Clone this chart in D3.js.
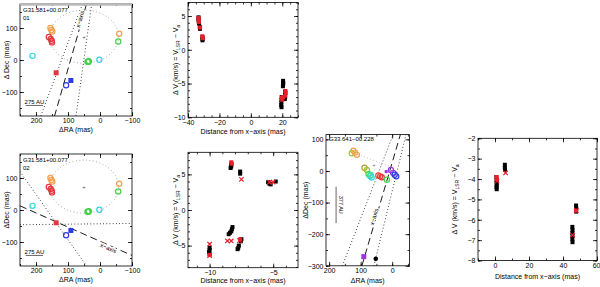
<!DOCTYPE html>
<html><head><meta charset="utf-8">
<script src="https://cdn.jsdelivr.net/npm/d3@7"></script>
<style>
body{margin:0;background:#fff}
svg{display:block;font-family:"Liberation Sans",Arial,sans-serif}
</style></head><body>
<svg width="600" height="287"></svg>
<script>
// colour groups of maser spots (by velocity)
var spotColors = ["#f4a04c","#e8343c","#34d4e4","#44d04c","#2c3ce4","#9c34e0","#b4a034","#94c834","#34e0b4","#f05024","#000000"];

// ---- G31.581+00.077 spots: [dRA, dDec, group] (mas)
var g31Spots = [
  [155,100,0],[152,94,0],[149,89,0],
  [160,72,1],[154,66,1],[151,60,1],[150,55,1],
  [211,13,2],[2,1,2],
  [39,-5,3],[35,-4,3],[37,-6,3],
  [-60,82,0],[-57,58,3],
  [106,-79,4]
];
var g31Squares = [[137,-40,1],[91,-64,4]];
var g31Ring = [50,73,108,83];       // centre RA, Dec, semi axes
// panel 01 lines
var axisA = [[42,175],[142,-175]];
var wedgeA1 = [[55,175],[185,-175]];
var wedgeA2 = [[26,175],[75,-175]];
// panel 02 lines
var axisC = [[250,13],[-100,-142]];
var cutC1 = [[250,-46],[-100,-42]];
var cutC2 = [[250,120],[42,-175]];

// ---- G33.641-00.228 spots
var g33Spots = [
  [123,64,0],[128,56,7],[118,58,0],[112,51,0],
  [88,10,6],[80,3,7],[75,-10,3],[70,-16,8],[65,-21,2],[68,-13,8],
  [44,-14,9],[38,-17,1],[33,-20,1],
  [17,-28,3],
  [4,3,5],[-3,-6,5],[-8,-12,4],[-13,-17,4]
];
var g33Small = [[19,-2,5]];
var g33Square = [[90,-271,5]];
var g33Dot = [[52,-278,10]];
var axisE = [[96,-300],[-26,115]];
var wedgeE1 = [[158,-300],[-3,115]];
var wedgeE2 = [[58,-300],[-44,115]];
var linkE = [[118,56],[7,14]];

// ---- velocity vs distance from x-axis: [distance (mas), dV (km/s)]
var velB_black = [[-33.3,4.8],[-33.3,4.5],[-33.2,4.2],[-33,3.9],[-32.5,3.4],[-32.4,3.1],
  [-30.8,1.9],[-30.7,1.6],[-30.8,1.4],[20.5,-4.6],[20.6,-4.9],[20.5,-5.2],[20.4,-5.4],
  [19.6,-7.0],[19.5,-7.4],[19.4,-7.8],[19.3,-8.2],[19.5,-8.5],[21.8,-6.2],[21.7,-6.6],[21.8,-7.0],[21.6,-7.3]];
var velB_red = [[-33.4,4.7],[-33.2,4.4],[-33.1,4.1],[-32.3,3.3],[-30.9,2.0],[-30.6,1.7],
  [19.8,-7.1],[20.0,-7.4],[22.0,-6.1],[22.2,-6.4],[21.9,-6.8],[20.6,-7.0]];

var velD_black = [[-8.3,6.4],[-8.3,6.1],[-8.35,5.9],[-7.6,5.4],[-7.6,5.1],[-5.4,3.9],[-5.3,3.7],
  [-5.2,3.6],[-4.8,4.0],[-8.2,-2.4],[-8.25,-2.7],[-8.3,-3.0],[-8.4,-3.2],[-8.5,-3.4],
  [-7.7,-5.0],[-7.75,-5.3],[-7.8,-5.5],[-10,-5.3],[-10,-5.6],[-10.05,-5.9],[-10,-6.2],
  [-7.5,-4.1],[-7.55,-4.4]];
var velD_redSq = [[-8.3,6.7],[-8.25,6.5],[-7.6,-4.1],[-10.0,-6.3]];
var velD_redX = [[-7.5,4.3],[-5.3,3.9],[-5.0,3.9],[-8.6,-4.35],[-8.3,-4.35],[-10,-4.8],[-10,-6.4],[-7.65,-4.3]];

var velF_black = [[0.8,-3.9],[0.9,-4.1],[1,-4.2],[1,-4.3],[0.9,-4.4],[1,-4.5],[5.8,-3.3],[5.8,-3.45],
  [5.9,-3.55],[45.5,-6.35],[45.6,-6.5],[45.5,-6.65],[45.6,-6.8],[45.5,-6.95],[45.6,-7.1],
  [47.7,-5.3],[47.8,-5.45],[47.7,-5.6]];
var velF_redSq = [[0.9,-3.9],[1,-4.0],[47.6,-5.55]];
var velF_redX = [[6.2,-3.7],[45.6,-6.75],[47.9,-5.55],[1.2,-4.1]];

var svg = d3.select("svg");
var defs = svg.append("defs");

function range(a, b, s) { return d3.range(a, b + s / 2, s); }

function panel(c) {
  var x = d3.scaleLinear().domain(c.xd).range(c.xr);
  var y = d3.scaleLinear().domain(c.yd).range(c.yr);
  var L = c.xr[0], R = c.xr[1], T = c.yr[1], B = c.yr[0];
  defs.append("clipPath").attr("id", "clip" + c.id).append("rect")
    .attr("x", L).attr("y", T).attr("width", R - L).attr("height", B - T);
  var g = svg.append("g");
  function ax(fn, sc, vals, size, lab, tr) {
    return g.append("g").attr("transform", tr)
      .call(fn(sc).tickValues(vals).tickSize(size).tickPadding(2.5)
        .tickFormat(lab ? d3.format("~g") : ""))
      .call(s => s.select(".domain").remove())
      .attr("font-size", 7).attr("font-family", null)
      .call(s => s.selectAll("line").attr("stroke-width", 0.8));
  }
  var bx = ax(d3.axisBottom, x, c.xMaj, -4, true, "translate(0," + B + ")");
  if (c.lastEnd) bx.selectAll("text").filter((d, i, n) => i === n.length - 1).attr("text-anchor", "end").attr("dx", 3);
  ax(d3.axisBottom, x, c.xMin, -2, false, "translate(0," + B + ")");
  ax(d3.axisTop, x, c.xMaj, -4, false, "translate(0," + T + ")");
  ax(d3.axisTop, x, c.xMin, -2, false, "translate(0," + T + ")");
  ax(d3.axisLeft, y, c.yMaj, -4, true, "translate(" + L + ",0)");
  ax(d3.axisLeft, y, c.yMin, -2, false, "translate(" + L + ",0)");
  ax(d3.axisRight, y, c.yMaj, -4, false, "translate(" + R + ",0)");
  ax(d3.axisRight, y, c.yMin, -2, false, "translate(" + R + ",0)");
  g.append("rect").attr("x", L).attr("y", T).attr("width", R - L).attr("height", B - T)
    .attr("fill", "none").attr("stroke", "#000").attr("stroke-width", 0.8);
  g.append("text").attr("x", (L + R) / 2).attr("y", c.xtY).attr("text-anchor", "middle")
    .attr("font-size", 7).text(c.xTitle);
  var yt = g.append("text").attr("transform", "translate(" + c.ytX + "," + (T + B) / 2 + ") rotate(-90)")
    .attr("text-anchor", "middle").attr("font-size", 7);
  if (c.vel) {
    yt.append("tspan").text("\u0394 V (km/s) = V");
    yt.append("tspan").attr("font-size", 5).attr("dy", 1.5).text("LSR");
    yt.append("tspan").attr("dy", -1.5).text(" \u2212 V");
    yt.append("tspan").attr("font-size", 5).attr("dy", 1.5).text("a");
  } else yt.text(c.yTitle);
  var inner = g.append("g").attr("clip-path", "url(#clip" + c.id + ")");
  return {g: g, inner: inner, x: x, y: y};
}

function drawLine(p, pts, dash, col) {
  p.inner.append("path").datum(pts)
    .attr("d", d3.line().x(d => p.x(d[0])).y(d => p.y(d[1])))
    .attr("fill", "none").attr("stroke", col || "#000").attr("stroke-width", 0.9)
    .attr("stroke-dasharray", dash);
}
// label along a line; t measured from the left end of the line
function axisLabel(p, pts, t, off) {
  var a = [p.x(pts[0][0]), p.y(pts[0][1])], b = [p.x(pts[1][0]), p.y(pts[1][1])];
  if (b[0] < a[0]) { var tmp = a; a = b; b = tmp; }
  var ang = Math.atan2(b[1] - a[1], b[0] - a[0]) * 180 / Math.PI;
  var px = a[0] + (b[0] - a[0]) * t, py = a[1] + (b[1] - a[1]) * t;
  p.g.append("text").attr("transform", "translate(" + px + "," + py + ") rotate(" + ang + ")")
    .attr("dy", off).attr("text-anchor", "middle").attr("font-size", 6)
    .attr("stroke", "#fff").attr("stroke-width", 2.5).attr("paint-order", "stroke")
    .text("x\u2212axis");
}
function spots(p, data, r) {
  p.inner.selectAll(null).data(data).enter().append("circle")
    .attr("cx", d => p.x(d[0])).attr("cy", d => p.y(d[1])).attr("r", r || 2.6)
    .attr("fill", "none").attr("stroke", d => spotColors[d[2]]).attr("stroke-width", 1.2);
}
function squares(p, data, s, col) {
  p.inner.selectAll(null).data(data).enter().append("rect")
    .attr("x", d => p.x(d[0]) - s / 2).attr("y", d => p.y(d[1]) - s / 2)
    .attr("width", s).attr("height", s)
    .attr("fill", d => col || spotColors[d[2]]);
}
function crosses(p, data) {
  p.inner.selectAll(null).data(data).enter().append("path")
    .attr("d", d => { var cx = p.x(d[0]), cy = p.y(d[1]);
      return "M" + (cx - 2.2) + "," + (cy - 2.2) + "L" + (cx + 2.2) + "," + (cy + 2.2) +
        "M" + (cx - 2.2) + "," + (cy + 2.2) + "L" + (cx + 2.2) + "," + (cy - 2.2); })
    .attr("stroke", "#e8202a").attr("stroke-width", 1.2);
}
function ring(p, e) {
  p.inner.append("ellipse").attr("cx", p.x(e[0])).attr("cy", p.y(e[1]))
    .attr("rx", Math.abs(p.x(e[0] + e[2]) - p.x(e[0]))).attr("ry", Math.abs(p.y(e[1] + e[3]) - p.y(e[1])))
    .attr("fill", "none").attr("stroke", "#777").attr("stroke-width", 0.8).attr("stroke-dasharray", "0.8,2.6");
  p.inner.append("text").attr("x", p.x(e[0])).attr("y", p.y(e[1]) + 2).attr("text-anchor", "middle")
    .attr("font-size", 6).attr("fill", "#555").text("+");
}
function g31Panel(id, ty, tag) {
  var p = panel({id: id, xd: [250, -100], xr: [20, 132], yd: [-175, 175], yr: [ty + 112, ty],
    xMaj: [200, 100, 0, -100], xMin: range(-100, 250, 50), yMaj: [-100, 0, 100], yMin: range(-150, 150, 50),
    xTitle: "\u0394RA (mas)", xtY: ty + 128, yTitle: tag === "01" ? "\u0394 Dec (mas)" : "\u0394Dec (mas)", ytX: 9});
  p.g.append("text").attr("x", 23).attr("y", ty + 8).attr("font-size", 6).text("G31.581+00.077");
  p.g.append("text").attr("x", 23).attr("y", ty + 16).attr("font-size", 6).text(tag);
  p.g.append("text").attr("x", p.x(205)).attr("y", p.y(-137)).attr("text-anchor", "middle")
    .attr("font-size", 6).text("275 AU");
  p.g.append("line").attr("x1", p.x(232)).attr("x2", p.x(178)).attr("y1", p.y(-142)).attr("y2", p.y(-142))
    .attr("stroke", "#000").attr("stroke-width", 0.6);
  ring(p, g31Ring);
  return p;
}

// ---- panel 01
var pA = g31Panel("A", 4, "01");
pA.g.append("line").attr("x1", 20).attr("x2", 132).attr("y1", 4.5).attr("y2", 4.5)
  .attr("stroke", "#bbb").attr("stroke-width", 2.5);
drawLine(pA, wedgeA1, "0.8,2.4");
drawLine(pA, wedgeA2, "0.8,2.4");
drawLine(pA, axisA, "7,4");
axisLabel(pA, axisA, 0.86, 0);
spots(pA, g31Spots);
squares(pA, g31Squares, 5);

// ---- panel 02
var pC = g31Panel("C", 154, "02");
drawLine(pC, cutC1, "0.8,2.4");
drawLine(pC, cutC2, "0.8,2.4");
drawLine(pC, axisC, "7,4");
axisLabel(pC, axisC, 0.8, 5);
spots(pC, g31Spots);
squares(pC, g31Squares, 5);

// ---- G33.641 map
var pE = panel({id: "E", xd: [210, -55], xr: [326, 409.5], yd: [-300, 115], yr: [265.8, 134.6],
  xMaj: [200, 100, 0], xMin: range(-50, 200, 50), yMaj: [-300, -200, -100, 0, 100], yMin: range(-300, 100, 50),
  xTitle: "\u0394RA (mas)", xtY: 283, yTitle: "\u0394Dec (mas)", ytX: 308});
pE.g.append("text").attr("x", 329).attr("y", 141).attr("font-size", 6).text("G33.641\u221200.228");
drawLine(pE, linkE, "0.8,2.4", "#a9a0c8");
drawLine(pE, wedgeE1, "0.8,2.4");
drawLine(pE, wedgeE2, "0.8,2.4");
drawLine(pE, axisE, "7,4");
axisLabel(pE, axisE, 0.37, 0);
pE.inner.append("text").attr("x", pE.x(58)).attr("y", pE.y(18) + 2).attr("text-anchor", "middle")
  .attr("font-size", 6).attr("fill", "#777").text("+");
spots(pE, g33Spots);
squares(pE, g33Small, 3);
squares(pE, g33Square, 5);
pE.inner.selectAll(null).data(g33Dot).enter().append("circle")
  .attr("cx", d => pE.x(d[0])).attr("cy", d => pE.y(d[1])).attr("r", 2.3).attr("fill", "#000");
pE.g.append("line").attr("x1", pE.x(178)).attr("x2", pE.x(178)).attr("y1", pE.y(-50)).attr("y2", pE.y(-165))
  .attr("stroke", "#000").attr("stroke-width", 0.6);
pE.g.append("text").attr("transform", "translate(" + (pE.x(178) + 2.5) + "," + pE.y(-107) + ") rotate(90)")
  .attr("text-anchor", "middle").attr("font-size", 5.5).text("377 AU");

// ---- velocity panels
var pB = panel({id: "B", xd: [-40, 30], xr: [188, 298], yd: [-10, 7], yr: [117.3, 2.5],
  xMaj: [-40, -20, 0, 20], xMin: range(-40, 30, 5), yMaj: [-10, -5, 0, 5], yMin: range(-10, 7, 1),
  xTitle: "Distance from x\u2212axis (mas)", xtY: 134, vel: true, ytX: 178});
squares(pB, velB_black, 4, "#000");
squares(pB, velB_red, 4, "#e8202a");

var pD = panel({id: "D", xd: [-11.7, -3.05], xr: [188, 298], yd: [-8.1, 8.1], yr: [267.7, 152.3],
  xMaj: [-10, -5], xMin: range(-11, -4, 1), yMaj: [-5, 0, 5], yMin: range(-8, 8, 1),
  xTitle: "Distance from x\u2212axis (mas)", xtY: 283, vel: true, ytX: 178});
squares(pD, velD_black, 4, "#000");
squares(pD, velD_redSq, 4, "#e8202a");
crosses(pD, velD_redX);

var pF = panel({id: "F", xd: [-10, 60], xr: [478, 597], yd: [-8, -2], yr: [260.5, 138.3],
  xMaj: [0, 20, 40, 60], xMin: range(-10, 60, 10), yMaj: range(-8, -2, 1), yMin: range(-8, -2, 0.5),
  xTitle: "Distance from x\u2212axis (mas)", xtY: 279, vel: true, ytX: 457, lastEnd: true});
squares(pF, velF_black, 4, "#000");
squares(pF, velF_redSq, 4, "#e8202a");
crosses(pF, velF_redX);
</script>
</body></html>
